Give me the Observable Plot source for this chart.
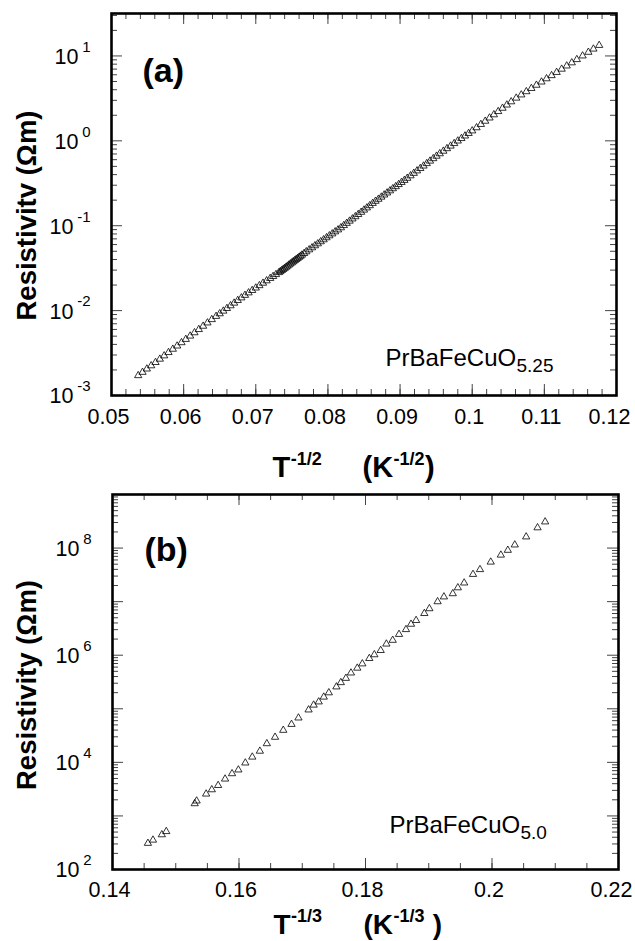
<!DOCTYPE html>
<html>
<head>
<meta charset="utf-8">
<script src="https://cdn.jsdelivr.net/npm/d3@7"></script>
<script src="https://cdn.jsdelivr.net/npm/@observablehq/plot@0.6"></script>
<style>
  html, body { margin: 0; padding: 0; background: white; }
  #chart svg { display: block; }
</style>
</head>
<body>
<div id="chart"></div>
<script>
// ---------- Panel (a): PrBaFeCuO5.25, x = T^-1/2, log10 resistivity ----------
const xA = [0.0537,0.0543,0.0549,0.0555,0.0561,0.0567,0.0573,0.0579,0.0585,0.0591,0.0597,0.0603,0.0609,0.0615,0.0621,0.0627,0.0633,0.0639,0.0645,0.0650,0.0655,0.0660,0.0665,0.0670,0.0675,0.0680,0.0685,0.0690,0.0695,0.0700,0.0705,0.0710,0.0715,0.0720,0.0724,0.0728,0.0732,
0.0734,0.0736,0.0738,0.0740,0.0742,0.0744,0.0746,0.0748,0.0750,0.0752,0.0754,0.0756,0.0758,0.0760,0.0762,0.0764,0.0767,0.0770,
0.0774,0.0778,0.0782,0.0786,0.0790,0.0794,0.0798,0.0802,0.0806,0.0810,0.0814,0.0818,0.0822,0.0826,0.0830,0.0834,0.0838,0.0842,0.0846,0.0850,0.0854,0.0858,0.0862,0.0866,0.0870,0.0874,0.0878,0.0882,0.0886,0.0890,0.0894,0.0898,0.0902,0.0906,0.0910,
0.09145,0.0919,0.09235,0.0928,0.09325,0.0937,0.09415,0.0946,0.09505,0.0955,
0.0960,0.0965,0.0970,0.0975,0.0980,0.0985,0.0990,0.0995,0.1000,
0.1006,0.1012,0.1018,0.1024,0.1030,0.1036,0.1042,0.1048,0.1054,
0.1061,0.1068,0.1075,0.1082,0.1089,0.1096,0.1103,0.1110,0.1117,0.1124,0.1131,0.1138,0.1145,0.1153,0.1161,0.1168,0.1176];
const logRhoA = [-2.765,-2.726,-2.687,-2.649,-2.610,-2.571,-2.532,-2.493,-2.454,-2.416,-2.377,-2.338,-2.299,-2.260,-2.222,-2.183,-2.144,-2.105,-2.067,-2.036,-2.005,-1.974,-1.942,-1.911,-1.880,-1.849,-1.819,-1.790,-1.762,-1.733,-1.705,-1.676,-1.648,-1.620,-1.597,-1.574,-1.551,
-1.540,-1.527,-1.514,-1.501,-1.488,-1.475,-1.462,-1.449,-1.436,-1.423,-1.410,-1.397,-1.384,-1.371,-1.358,-1.345,-1.326,-1.306,
-1.283,-1.259,-1.235,-1.212,-1.188,-1.165,-1.141,-1.118,-1.095,-1.071,-1.048,-1.023,-0.997,-0.971,-0.945,-0.919,-0.893,-0.867,-0.841,-0.815,-0.789,-0.763,-0.736,-0.711,-0.687,-0.662,-0.637,-0.613,-0.588,-0.563,-0.539,-0.514,-0.489,-0.465,-0.440,
-0.411,-0.382,-0.353,-0.325,-0.296,-0.267,-0.238,-0.209,-0.180,-0.151,
-0.121,-0.091,-0.061,-0.031,-0.001,0.028,0.058,0.088,0.118,
0.155,0.194,0.232,0.270,0.308,0.346,0.385,0.423,0.461,
0.504,0.542,0.580,0.618,0.656,0.694,0.732,0.769,0.807,0.845,0.883,0.920,0.958,1.001,1.044,1.082,1.125];

// ---------- Panel (b): PrBaFeCuO5.0, x = T^-1/3, log10 resistivity ----------
const xB = [0.1456,0.1464,0.1478,0.1485,0.1530,0.1533,0.1548,0.1557,0.1567,0.1578,0.1589,0.1599,0.1610,0.1621,0.1633,0.1644,0.1657,0.1670,0.1683,0.1694,0.1710,0.1718,0.1726,0.1734,0.1742,0.1754,0.1761,0.1769,0.1777,0.1787,0.1795,0.1806,0.1814,0.1824,0.1833,0.1843,0.1853,0.1864,0.1872,0.1880,0.1893,0.1901,0.1914,0.1924,0.1938,0.1946,0.1956,0.1970,0.1981,0.1998,0.2014,0.2025,0.2036,0.2054,0.2072,0.2084];
const logRhoB = [2.49,2.55,2.65,2.71,3.23,3.28,3.41,3.49,3.57,3.69,3.79,3.86,3.99,4.10,4.21,4.35,4.47,4.60,4.71,4.83,4.98,5.07,5.13,5.22,5.30,5.41,5.49,5.57,5.67,5.76,5.84,5.94,6.01,6.09,6.21,6.28,6.39,6.48,6.58,6.65,6.78,6.87,7.00,7.09,7.15,7.26,7.35,7.51,7.60,7.74,7.87,7.96,8.06,8.21,8.38,8.49];

// ---------- Tick labels ----------
const xTicksA = [0.05, 0.06, 0.07, 0.08, 0.09, 0.10, 0.11, 0.12];
const xTickLabelsA = ["0.05", "0.06", "0.07", "0.08", "0.09", "0.1", "0.11", "0.12"];
const yTicksA = [10, 1, 0.1, 0.01, 0.001];
const yTickExpA = ["1", "0", "-1", "-2", "-3"];

const xTicksB = [0.14, 0.16, 0.18, 0.20, 0.22];
const xTickLabelsB = ["0.14", "0.16", "0.18", "0.2", "0.22"];
const yTicksB = [1e8, 1e6, 1e4, 1e2];
const yTickExpB = ["8", "6", "4", "2"];

// ---------- Tables ----------
const dataA = xA.map((x, i) => ({x, rho: Math.pow(10, logRhoA[i])}));
const dataB = xB.map((x, i) => ({x, rho: Math.pow(10, logRhoB[i])}));

const FONT = "'Liberation Sans', Arial, Helvetica, sans-serif";

function panel(opts) {
  const {width, height, mt, mb, ml, mr, xDomain, yDomain, xMinorStep, xMajor, data,
         xTicks, xLabels, yTicks, yExp, labelDy, tag, tagDx, tagDy,
         ylabel, ylabelDx, ylabelDy, legMain, legSub, legDx, legDy,
         sup, supSpace, titleDy, titleSize} = opts;
  const innerH = height - mt - mb;
  const innerW = width - ml - mr;
  const xMinor = d3.range(xDomain[0], xDomain[1] + 1e-9, xMinorStep);
  const yAll = d3.scaleLog().domain(yDomain).ticks(40).filter(v => v >= yDomain[0] * 0.999 && v <= yDomain[1] * 1.001);
  const isDecade = v => Math.abs(Math.log10(v) - Math.round(Math.log10(v))) < 1e-6;
  const yMajor = yAll.filter(isDecade);
  const yMinor = yAll.filter(v => !isDecade(v));
  const tickStroke = "#444";
  const minorLen = 6, majorLen = 11;
  const expMinus = yTicks.filter((d, i) => yExp[i].startsWith("-"));
  const expPlain = yTicks.filter((d, i) => !yExp[i].startsWith("-"));
  const expOf = new Map(yTicks.map((d, i) => [d, yExp[i]]));
  const labOf = new Map(xTicks.map((d, i) => [d, xLabels[i]]));
  const xLabInner = xTicks.slice(0, -1);
  const xLabLast = xTicks.slice(-1);
  const bold = {fontFamily: FONT, fontWeight: "bold", fill: "black", textAnchor: "start", lineAnchor: "bottom", frameAnchor: "bottom-left"};
  const T2 = titleSize, TS = 18;
  // advance widths (Liberation Sans Bold) to lay out the composite axis title
  const wT = 0.611 * T2, wParK = 1.055 * T2, wSup = 1.723 * TS;
  const tX = 161;

  return Plot.plot({
    width, height,
    marginTop: mt, marginBottom: mb, marginLeft: ml, marginRight: mr,
    style: {background: "white", fontFamily: FONT, overflow: "visible"},
    x: {domain: xDomain, axis: null},
    y: {type: "log", domain: yDomain, axis: null},
    marks: [
      // inward ticks, bottom & top
      Plot.ruleX(xMinor, {insetTop: innerH - minorLen, stroke: tickStroke, strokeWidth: 1}),
      Plot.ruleX(xMinor, {insetBottom: innerH - minorLen, stroke: tickStroke, strokeWidth: 1}),
      Plot.ruleX(xMajor, {insetTop: innerH - majorLen, stroke: tickStroke, strokeWidth: 1}),
      Plot.ruleX(xMajor, {insetBottom: innerH - majorLen, stroke: tickStroke, strokeWidth: 1}),
      // inward ticks, left & right
      Plot.ruleY(yMinor, {insetRight: innerW - minorLen, stroke: tickStroke, strokeWidth: 1}),
      Plot.ruleY(yMinor, {insetLeft: innerW - minorLen, stroke: tickStroke, strokeWidth: 1}),
      Plot.ruleY(yMajor, {insetRight: innerW - majorLen, stroke: tickStroke, strokeWidth: 1}),
      Plot.ruleY(yMajor, {insetLeft: innerW - majorLen, stroke: tickStroke, strokeWidth: 1}),
      // data
      Plot.dot(data, {x: "x", y: "rho", symbol: "triangle", r: 2.7, fill: "none", stroke: "black", strokeWidth: 0.8}),
      Plot.frame({stroke: "black", strokeWidth: 2.6}),
      // x tick labels
      Plot.text(xLabInner, {x: d => d, text: d => labOf.get(d), frameAnchor: "bottom", dx: -3, dy: labelDy,
        fontSize: 21.5, fontFamily: FONT, fill: "black"}),
      Plot.text(xLabLast, {x: d => d, text: d => labOf.get(d), frameAnchor: "bottom", dx: -7, dy: labelDy,
        fontSize: 21.5, fontFamily: FONT, fill: "black"}),
      // y tick labels: "10" + superscript exponent
      Plot.text(expPlain, {y: d => d, text: () => "10", frameAnchor: "left", dx: -33, dy: 1,
        textAnchor: "end", fontSize: 21.5, fontFamily: FONT, fill: "black"}),
      Plot.text(expMinus, {y: d => d, text: () => "10", frameAnchor: "left", dx: -38, dy: 1,
        textAnchor: "end", fontSize: 21.5, fontFamily: FONT, fill: "black"}),
      Plot.text(yTicks, {y: d => d, text: d => expOf.get(d), frameAnchor: "left", dx: -21, dy: -9,
        textAnchor: "end", fontSize: 15, fontFamily: FONT, fill: "black"}),
      // y axis title
      Plot.text([ylabel], {text: d => d, frameAnchor: "left", dx: ylabelDx, dy: ylabelDy, rotate: -90,
        textAnchor: "middle", lineAnchor: "middle", fontSize: 27.5, fontWeight: "bold", fontFamily: FONT, fill: "black"}),
      // x axis title: T^sup (K^sup)
      Plot.text(["T"], {...bold, text: d => d, dx: tX, dy: titleDy, fontSize: T2}),
      Plot.text([sup], {...bold, text: d => d, dx: tX + wT + 0.5, dy: titleDy - 12, fontSize: TS}),
      Plot.text(["(K"], {...bold, text: d => d, dx: 251, dy: titleDy, fontSize: T2}),
      Plot.text([sup], {...bold, text: d => d, dx: 251 + wParK + 0.5, dy: titleDy - 12, fontSize: TS}),
      Plot.text([supSpace ? " )" : ")"], {...bold, text: d => d, dx: 251 + wParK + wSup + 1, dy: titleDy, fontSize: T2}),
      // panel tag
      Plot.text([tag], {text: d => d, frameAnchor: "top-left", dx: tagDx, dy: tagDy, textAnchor: "start",
        lineAnchor: "bottom", fontSize: 34, fontWeight: "bold", fontFamily: FONT, fill: "black"}),
      // compound label
      Plot.text([legMain], {text: d => d, frameAnchor: "top-left", dx: legDx, dy: legDy, textAnchor: "start",
        lineAnchor: "bottom", fontSize: 24, fontFamily: FONT, fill: "black"}),
      Plot.text([legSub], {text: d => d, frameAnchor: "top-left", dx: legDx + 131, dy: legDy + 6, textAnchor: "start",
        lineAnchor: "bottom", fontSize: 19, fontFamily: FONT, fill: "black"})
    ]
  });
}

const plotA = panel({
  width: 635, height: 486, mt: 13, mb: 91, ml: 111, mr: 19,
  xDomain: [0.05, 0.12], xMinorStep: 0.002, xMajor: xTicksA, data: dataA,
  xTicks: xTicksA, xLabels: xTickLabelsA, yTicks: yTicksA, yExp: yTickExpA,
  yDomain: [1e-3, Math.pow(10, 1.5)], labelDy: 28,
  tag: "(a)", tagDx: 31, tagDy: 68,
  ylabel: "Resistivitv (\u03A9m)", ylabelDx: -84, ylabelDy: 11,
  legMain: "PrBaFeCuO", legSub: "5.25", legDx: 274, legDy: 352,
  sup: "-1/2", supSpace: false, titleDy: 81, titleSize: 29
});

const plotB = panel({
  width: 635, height: 455, mt: 8, mb: 72, ml: 112, mr: 17,
  xDomain: [0.14, 0.22], xMinorStep: 0.005, xMajor: xTicksB, data: dataB,
  xTicks: xTicksB, xLabels: xTickLabelsB, yTicks: yTicksB, yExp: yTickExpB,
  yDomain: [1e2, 1e9], labelDy: 27,
  tag: "(b)", tagDx: 32, tagDy: 66,
  ylabel: "Resistivity (\u03A9m)", ylabelDx: -85, ylabelDy: 3,
  legMain: "PrBaFeCuO", legSub: "5.0", legDx: 277, legDy: 338,
  sup: "-1/3", supSpace: true, titleDy: 64, titleSize: 28
});

const root = document.getElementById("chart");
root.appendChild(plotA);
root.appendChild(plotB);
</script>
</body>
</html>
